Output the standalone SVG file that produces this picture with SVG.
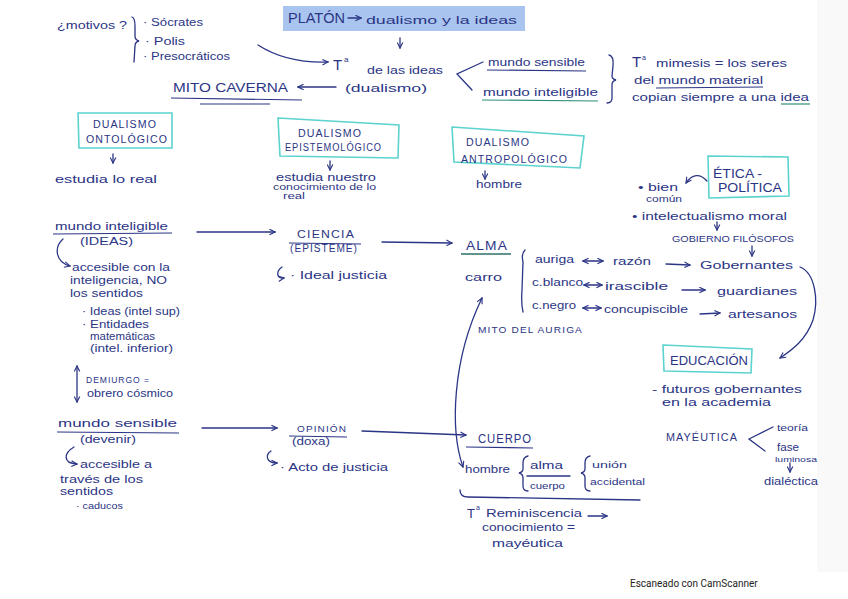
<svg xmlns="http://www.w3.org/2000/svg" width="848" height="599" viewBox="0 0 848 599">
<defs>
<style>
text{font-family:"Liberation Sans","DejaVu Sans",sans-serif;fill:#2b3585;font-size:10px}
.cap{font-size:10px;letter-spacing:1px}
.ink{stroke:#2b3585;stroke-width:1.3;fill:none;stroke-linecap:round}
.ul{stroke:#2b3585;stroke-width:1.2;fill:none}
.teal{stroke:#5cd3cf;stroke-width:1.6;fill:none}
.box{stroke:#5cd3cf;stroke-width:1.6;fill:#ffffff}
</style>
<marker id="ah" viewBox="0 0 10 10" refX="9" refY="5" markerWidth="7" markerHeight="7" orient="auto-start-reverse" markerUnits="userSpaceOnUse">
<path d="M1,1 L9,5 L1,9" fill="none" stroke="#2b3585" stroke-width="1.6"/>
</marker>
</defs>
<rect x="0" y="0" width="848" height="599" fill="#ffffff"/>
<rect x="817" y="0" width="31" height="572" fill="#f9f9f9"/>

<g id="platon">
<rect x="283" y="6" width="242" height="25" fill="#a9c4ee"/>
<text x="288" y="23" style="font-size:15px" textLength="57" lengthAdjust="spacingAndGlyphs">PLATÓN</text>
<text x="366" y="24" textLength="151" lengthAdjust="spacingAndGlyphs">dualismo  y  la  ideas</text>
</g>

<g id="connectors">
<path class="ink" d="M348,18 L361,18" marker-end="url(#ah)"/>
<path class="ink" d="M258,45 C275,56 298,63 328,62" marker-end="url(#ah)"/>
<path class="ink" d="M400,38 L400,48" marker-end="url(#ah)"/>
<path class="ink" d="M336,87 L298,87" marker-end="url(#ah)"/>
<path class="ink" d="M483,62 L457,74 L472,90"/>
<path class="ink" d="M609,55 Q614,56 613,66 L612,76 Q612,79 616,80 Q612,81 612,85 L612,98 Q612,103 607,103"/>
<path class="ink" d="M113,154 L113,163" marker-end="url(#ah)"/>
<path class="ink" d="M330,161 L330,170" marker-end="url(#ah)"/>
<path class="ink" d="M485,171 L485,179" marker-end="url(#ah)"/>
<path class="ink" d="M707,181 C700,173 692,174 686,183" marker-end="url(#ah)"/>
<path class="ink" d="M717,222 L717,230" marker-end="url(#ah)"/>
<path class="ink" d="M752,246 L752,256" marker-end="url(#ah)"/>
<path class="ink" d="M197,232 L275,232" marker-end="url(#ah)"/>
<path class="ink" d="M63,239 C54,247 55,262 70,266" marker-end="url(#ah)"/>
<path class="ink" d="M382,242 L452,243" marker-end="url(#ah)"/>
<path class="ink" d="M282,267 C276,271 276,279 284,278" marker-end="url(#ah)"/>
<path class="ink" d="M525,250 Q521,254 523,262 L522,290 Q521,303 523,312"/>
<path class="ink" d="M583,261 L603,261" marker-start="url(#ah)" marker-end="url(#ah)"/>
<path class="ink" d="M584,285 L602,285" marker-start="url(#ah)" marker-end="url(#ah)"/>
<path class="ink" d="M583,308 L601,308" marker-start="url(#ah)" marker-end="url(#ah)"/>
<path class="ink" d="M666,264 L690,265" marker-end="url(#ah)"/>
<path class="ink" d="M682,290 L705,290" marker-end="url(#ah)"/>
<path class="ink" d="M700,314 L720,313" marker-end="url(#ah)"/>
<path class="ink" d="M800,267 C815,273 819,300 813,320 C806,340 792,350 780,358" marker-end="url(#ah)"/>
<path class="ink" d="M463,467 C450,430 452,360 482,298" marker-start="url(#ah)" marker-end="url(#ah)"/>
<path class="ink" d="M77,366 L77,402" marker-start="url(#ah)" marker-end="url(#ah)"/>
<path class="ink" d="M202,428 L277,428" marker-end="url(#ah)"/>
<path class="ink" d="M74,447 C64,453 62,463 77,464" marker-end="url(#ah)"/>
<path class="ink" d="M271,451 C265,455 266,463 277,463" marker-end="url(#ah)"/>
<path class="ink" d="M362,431 L466,435" marker-end="url(#ah)"/>
<path class="ink" d="M528,456 Q523,457 523,463 L523,469 Q523,472 519,473 Q523,474 523,478 L523,486 Q523,491 528,491"/>
<path class="ink" d="M527,476 L570,476"/>
<path class="ink" d="M590,456 Q585,457 585,463 L585,469 Q585,472 581,473 Q585,474 585,478 L585,486 Q585,491 590,491"/>
<path class="ink" d="M460,490 Q460,497 468,497 L640,500"/>
<path class="ink" d="M588,516 L607,516" marker-end="url(#ah)"/>
<path class="ink" d="M773,427 L749,439 L765,451"/>
<path class="ink" d="M790,463 L790,472" marker-end="url(#ah)"/>
<path class="ink" d="M132,17 Q135,18 135,26 L135,36 Q135,40 139,41 Q135,42 135,46 L134,62"/>
</g>

<g id="motivos">
<text x="57" y="29" textLength="70" lengthAdjust="spacingAndGlyphs">¿motivos ?</text>
<text x="143" y="26" textLength="60" lengthAdjust="spacingAndGlyphs">· Sócrates</text>
<text x="145" y="45" textLength="40" lengthAdjust="spacingAndGlyphs">· Polis</text>
<text x="143" y="60" textLength="87" lengthAdjust="spacingAndGlyphs">· Presocráticos</text>
</g>

<g id="teoria-ideas">
<text x="333" y="70" style="font-size:15px">T</text>
<text x="344" y="62" style="font-size:8px">a</text>
<text x="367" y="74" textLength="76" lengthAdjust="spacingAndGlyphs">de las ideas</text>
<text x="345" y="92" textLength="82" lengthAdjust="spacingAndGlyphs">(dualismo)</text>
</g>

<g id="mito-caverna">
<text x="173" y="92" style="font-size:12px" textLength="115" lengthAdjust="spacingAndGlyphs">MITO CAVERNA</text>
<path class="ul" d="M171,98 L302,100"/>
<path class="ul" d="M200,104 L270,104"/>
</g>

<g id="mundos">
<text x="488" y="66" textLength="97" lengthAdjust="spacingAndGlyphs">mundo  sensible</text>
<path class="ul" d="M487,70 L586,71"/>
<text x="483" y="96" textLength="115" lengthAdjust="spacingAndGlyphs">mundo  inteligible</text>
<path d="M482,100 L598,101" stroke="#2f8f7a" stroke-width="1.2" fill="none"/>
</g>

<g id="mimesis">
<text x="632" y="67" style="font-size:15px">T</text>
<text x="642" y="60" style="font-size:7px">a</text>
<text x="656" y="67" textLength="131" lengthAdjust="spacingAndGlyphs">mimesis = los seres</text>
<text x="634" y="84" textLength="129" lengthAdjust="spacingAndGlyphs">del  mundo  material</text>
<path class="ul" d="M656,88 L763,87"/>
<text x="632" y="101" textLength="177" lengthAdjust="spacingAndGlyphs">copian  siempre  a  una  idea</text>
<path d="M781,104 L810,104" stroke="#2f8f7a" stroke-width="1.2" fill="none"/>
</g>

<g id="dualismo-ontologico">
<path class="box" d="M78,113 L172,113 L172,148 L79,148 Z"/>
<text x="93" y="128" class="cap" textLength="64" lengthAdjust="spacingAndGlyphs">DUALISMO</text>
<text x="86" y="143" class="cap" textLength="82" lengthAdjust="spacingAndGlyphs">ONTOLÓGICO</text>
<text x="55" y="183" textLength="102" lengthAdjust="spacingAndGlyphs">estudia lo real</text>
</g>

<g id="dualismo-epistemologico">
<path class="box" d="M278,118 L399,125 L398,158 L280,156 Z"/>
<text x="298" y="137" class="cap" textLength="64" lengthAdjust="spacingAndGlyphs">DUALISMO</text>
<text x="285" y="151" class="cap" textLength="97" lengthAdjust="spacingAndGlyphs">EPISTEMOLÓGICO</text>
<text x="276" y="181" textLength="100" lengthAdjust="spacingAndGlyphs">estudia nuestro</text>
<text x="273" y="190" style="font-size:9px" textLength="103" lengthAdjust="spacingAndGlyphs">conocimiento de lo</text>
<text x="283" y="199" style="font-size:9px" textLength="22" lengthAdjust="spacingAndGlyphs">real</text>
</g>

<g id="dualismo-antropologico">
<path class="box" d="M452,127 L584,136 L580,168 L454,162 Z"/>
<text x="466" y="146" class="cap" textLength="64" lengthAdjust="spacingAndGlyphs">DUALISMO</text>
<text x="461" y="163" class="cap" textLength="107" lengthAdjust="spacingAndGlyphs">ANTROPOLÓGICO</text>
<text x="476" y="188" textLength="46" lengthAdjust="spacingAndGlyphs">hombre</text>
</g>

<g id="etica-politica">
<path class="box" d="M708,156 L788,157 L789,196 L709,198 Z"/>
<text x="713" y="178" style="font-size:12px" textLength="49" lengthAdjust="spacingAndGlyphs">ÉTICA -</text>
<text x="718" y="192" style="font-size:12px" textLength="64" lengthAdjust="spacingAndGlyphs">POLÍTICA</text>
<text x="638" y="191" textLength="40" lengthAdjust="spacingAndGlyphs">• bien</text>
<text x="646" y="202" style="font-size:9px" textLength="36" lengthAdjust="spacingAndGlyphs">común</text>
<text x="632" y="220" textLength="155" lengthAdjust="spacingAndGlyphs">• intelectualismo   moral</text>
<text x="672" y="242" style="font-size:9px" textLength="122" lengthAdjust="spacingAndGlyphs">GOBIERNO FILÓSOFOS</text>
</g>

<g id="mundo-inteligible">
<text x="55" y="230" textLength="113" lengthAdjust="spacingAndGlyphs">mundo  inteligible</text>
<path class="ul" d="M53,234 L172,233"/>
<text x="80" y="245" textLength="53" lengthAdjust="spacingAndGlyphs">(IDEAS)</text>
<text x="72" y="271" textLength="98" lengthAdjust="spacingAndGlyphs">accesible con la</text>
<text x="70" y="284" textLength="97" lengthAdjust="spacingAndGlyphs">inteligencia, NO</text>
<text x="70" y="297" textLength="73" lengthAdjust="spacingAndGlyphs">los sentidos</text>
<text x="82" y="315" textLength="98" lengthAdjust="spacingAndGlyphs">· Ideas (intel sup)</text>
<text x="82" y="328" textLength="67" lengthAdjust="spacingAndGlyphs">· Entidades</text>
<text x="90" y="340" textLength="65" lengthAdjust="spacingAndGlyphs">matemáticas</text>
<text x="90" y="352" textLength="83" lengthAdjust="spacingAndGlyphs">(intel. inferior)</text>
</g>

<g id="ciencia">
<text x="297" y="238" class="cap" textLength="58" lengthAdjust="spacingAndGlyphs">CIENCIA</text>
<path class="ul" d="M289,243 L361,244"/>
<text x="290" y="252" class="cap" textLength="68" lengthAdjust="spacingAndGlyphs">(EPISTEME)</text>
<text x="290" y="279" textLength="97" lengthAdjust="spacingAndGlyphs">· Ideal justicia</text>
</g>

<g id="alma">
<text x="466" y="250" class="cap" style="font-size:12px" textLength="42" lengthAdjust="spacingAndGlyphs">ALMA</text>
<path d="M461,254 L511,254" stroke="#2f6f6a" stroke-width="1.3" fill="none"/>
<text x="465" y="281" textLength="37" lengthAdjust="spacingAndGlyphs">carro</text>
<text x="535" y="263" textLength="39" lengthAdjust="spacingAndGlyphs">auriga</text>
<text x="613" y="265" textLength="38" lengthAdjust="spacingAndGlyphs">razón</text>
<text x="700" y="269" textLength="93" lengthAdjust="spacingAndGlyphs">Gobernantes</text>
<text x="532" y="286" textLength="51" lengthAdjust="spacingAndGlyphs">c.blanco</text>
<text x="605" y="290" textLength="63" lengthAdjust="spacingAndGlyphs">irascible</text>
<text x="717" y="295" textLength="80" lengthAdjust="spacingAndGlyphs">guardianes</text>
<text x="532" y="309" textLength="44" lengthAdjust="spacingAndGlyphs">c.negro</text>
<text x="604" y="313" textLength="84" lengthAdjust="spacingAndGlyphs">concupiscible</text>
<text x="728" y="318" textLength="69" lengthAdjust="spacingAndGlyphs">artesanos</text>
<text x="478" y="333" class="cap" style="font-size:9px" textLength="105" lengthAdjust="spacingAndGlyphs">MITO DEL AURIGA</text>
</g>

<g id="educacion">
<path class="box" d="M663,345 L752,349 L751,373 L664,371 Z"/>
<text x="670" y="365" style="font-size:12px" textLength="78" lengthAdjust="spacingAndGlyphs">EDUCACIÓN</text>
<text x="652" y="393" textLength="150" lengthAdjust="spacingAndGlyphs">- futuros  gobernantes</text>
<text x="662" y="406" textLength="109" lengthAdjust="spacingAndGlyphs">en la academia</text>
</g>

<g id="mayeutica">
<text x="666" y="441" class="cap" textLength="72" lengthAdjust="spacingAndGlyphs">MAYÉUTICA</text>
<text x="777" y="431" style="font-size:9px" textLength="31" lengthAdjust="spacingAndGlyphs">teoría</text>
<text x="777" y="451" textLength="22" lengthAdjust="spacingAndGlyphs">fase</text>
<text x="775" y="462" style="font-size:8px" textLength="42" lengthAdjust="spacingAndGlyphs">luminosa</text>
<text x="764" y="485" textLength="54" lengthAdjust="spacingAndGlyphs">dialéctica</text>
</g>

<g id="demiurgo">
<text x="86" y="383" class="cap" style="font-size:9px" textLength="64" lengthAdjust="spacingAndGlyphs">DEMIURGO =</text>
<text x="87" y="397" textLength="86" lengthAdjust="spacingAndGlyphs">obrero cósmico</text>
</g>

<g id="mundo-sensible">
<text x="58" y="427" textLength="119" lengthAdjust="spacingAndGlyphs">mundo  sensible</text>
<path class="ul" d="M57,432 L179,433"/>
<text x="80" y="443" textLength="56" lengthAdjust="spacingAndGlyphs">(devenir)</text>
<text x="80" y="468" textLength="72" lengthAdjust="spacingAndGlyphs">accesible a</text>
<text x="60" y="483" textLength="83" lengthAdjust="spacingAndGlyphs">través de los</text>
<text x="60" y="495" textLength="53" lengthAdjust="spacingAndGlyphs">sentidos</text>
<text x="76" y="509" style="font-size:9px" textLength="47" lengthAdjust="spacingAndGlyphs">· caducos</text>
</g>

<g id="opinion">
<text x="297" y="432" class="cap" style="font-size:9px" textLength="50" lengthAdjust="spacingAndGlyphs">OPINIÓN</text>
<path class="ul" d="M289,436 L347,437"/>
<text x="292" y="445" textLength="38" lengthAdjust="spacingAndGlyphs">(doxa)</text>
<text x="280" y="471" textLength="108" lengthAdjust="spacingAndGlyphs">· Acto de justicia</text>
</g>

<g id="cuerpo">
<text x="478" y="443" class="cap" style="font-size:12px" textLength="54" lengthAdjust="spacingAndGlyphs">CUERPO</text>
<path class="ul" d="M466,447 L533,448"/>
<text x="465" y="473" textLength="45" lengthAdjust="spacingAndGlyphs">hombre</text>
<text x="530" y="469" textLength="33" lengthAdjust="spacingAndGlyphs">alma</text>
<text x="530" y="489" style="font-size:9px" textLength="35" lengthAdjust="spacingAndGlyphs">cuerpo</text>
<text x="592" y="468" style="font-size:9px" textLength="35" lengthAdjust="spacingAndGlyphs">unión</text>
<text x="590" y="485" style="font-size:9px" textLength="55" lengthAdjust="spacingAndGlyphs">accidental</text>
</g>

<g id="reminiscencia">
<text x="467" y="518" style="font-size:13px">T</text>
<text x="476" y="510" style="font-size:7px">a</text>
<text x="486" y="517" textLength="96" lengthAdjust="spacingAndGlyphs">Reminiscencia</text>
<text x="482" y="531" textLength="93" lengthAdjust="spacingAndGlyphs">conocimiento =</text>
<text x="492" y="547" textLength="71" lengthAdjust="spacingAndGlyphs">mayéutica</text>
</g>

<text x="630" y="587" style="fill:#222222;font-size:10px;font-family:Roboto,'Liberation Sans',sans-serif">Escaneado con CamScanner</text>
</svg>
